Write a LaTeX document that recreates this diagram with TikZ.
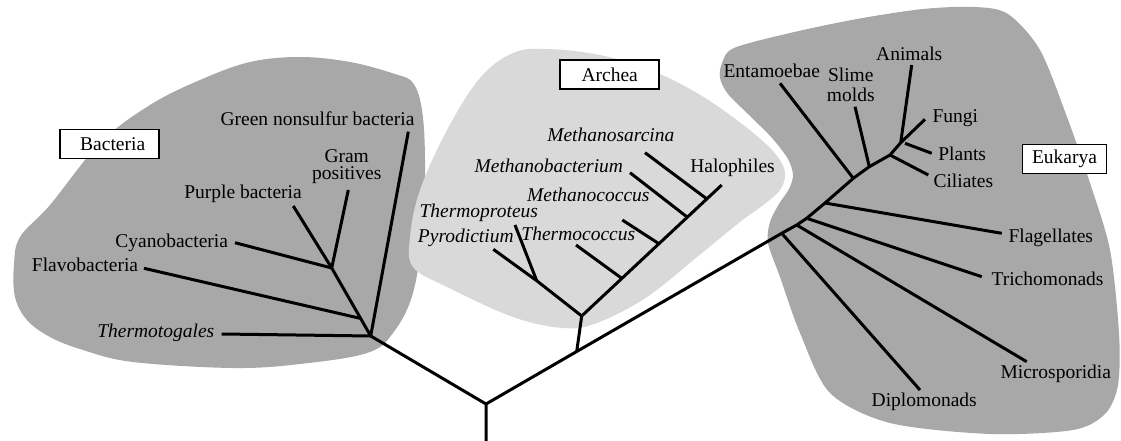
\documentclass[tikz,border=0pt]{standalone}
\usepackage{fontspec}
\setmainfont{Liberation Serif}
\definecolor{darkblob}{gray}{0.66}
\definecolor{lightblob}{gray}{0.85}
\begin{document}
\begin{tikzpicture}[x=1pt,y=-1pt,
  br/.style={line width=3pt, line join=round},
  lbl/.style={font=\fontsize{19.5}{20}\selectfont, inner sep=0pt, anchor=base},
  ilbl/.style={lbl, font=\fontsize{19.5}{20}\selectfont\itshape},
  dom/.style={draw, line width=1.6pt, fill=white, font=\fontsize{19.5}{20}\selectfont,
              minimum height=29pt, inner sep=0pt}]
\useasboundingbox (0,0) rectangle (1121,441);
% blobs
\fill[darkblob] plot[smooth cycle, tension=0.6] coordinates {
 (413,83) (422,110) (425,160) (423,227) (413,293) (393,333) (367,353) (300,364)
 (233,368) (133,362) (83,350) (50,337) (27,320) (15,297) (14,265) (20,237)
 (50,205) (100,143) (150,105) (200,80) (250,62) (300,57) (350,62) (395,74)};
\fill[lightblob] plot[smooth cycle, tension=0.6] coordinates {
 (513,53) (547,49) (600,55) (650,70) (690,89) (723,110) (757,136) (777,156)
 (785,173) (780,190) (762,206) (740,222) (697,257) (647,297) (597,323) (563,328)
 (513,317) (447,287) (413,267) (410,237) (420,190) (447,130) (480,78)};
\fill[darkblob] plot[smooth cycle, tension=0.5] coordinates {
 (722,63) (734,48) (790,33) (857,19) (923,9) (975,7) (1008,14) (1040,50)
 (1067,117) (1090,183) (1110,250) (1119,333) (1118,385) (1105,414) (1073,430)
 (990,434) (890,423) (830,393) (800,333) (780,277) (768,243) (770,222)
 (779,204) (789,189) (793,175) (788,159) (772,138) (749,115) (728,94) (720,78)};
% domain boxes
\node[dom, minimum width=99pt] (bact) at (109.7,144) {\hspace*{6pt}Bacteria};
\node[dom, minimum width=99pt] (arch) at (609.7,74.7) {Archea};
\node[dom, minimum width=84pt] (euk) at (1064.5,158.8) {Eukarya};
% root
\coordinate (root) at (486,404);
\coordinate (rootb) at (486,441);
\coordinate (bn) at (370.7,336);
\coordinate (aj) at (576.7,351.5);
\coordinate (dj) at (781.7,233.3);
\draw[br] (rootb) -- (root) -- (bn);
\draw[br] (root) -- (aj) -- (dj);
% Bacteria
\coordinate (bs) at (331.7,268);
\coordinate (bf) at (360,318.3);
\coordinate (tGreen) at (408.3,131.7);
\coordinate (tGram) at (348.3,190);
\coordinate (tPurple) at (293.3,206);
\coordinate (tCyano) at (235,242.7);
\coordinate (tFlavo) at (144,268.3);
\coordinate (tTherm) at (221.7,334);
\draw[br] (bn) -- (tGreen);
\draw[br] (bn) -- (bs) -- (tPurple);
\draw[br] (bs) -- (tGram);
\draw[br] (bs) -- (tCyano);
\draw[br] (bf) -- (tFlavo);
\draw[br] (bn) -- (tTherm);
\node[lbl] (lGreen) at (317.5,126) {Green nonsulfur bacteria};
\node[lbl, align=center] (lGram) at (346.7,179.3) {Gram\\[-3pt]positives};
\node[lbl] (lPurple) at (243,198.7) {Purple bacteria};
\node[lbl] (lCyano) at (171.7,247.7) {Cyanobacteria};
\node[lbl] (lFlavo) at (85,271) {Flavobacteria};
\node[ilbl] (lTherm) at (155.8,337.7) {Thermotogales};
% Archea
\coordinate (an) at (581.7,316);
\coordinate (al) at (536.7,280.7);
\coordinate (tPyro) at (493.3,249.3);
\coordinate (tTprot) at (515,225);
\coordinate (tHalo) at (721.7,185);
\coordinate (jTc) at (621.7,278.3);
\coordinate (tTc) at (576,245);
\coordinate (jMc) at (658.3,243.3);
\coordinate (tMc) at (622.3,220);
\coordinate (jMb) at (686.7,216.7);
\coordinate (tMb) at (630,172.7);
\coordinate (jMs) at (706,198.3);
\coordinate (tMs) at (645,152.7);
\draw[br] (aj) -- (an) -- (tHalo);
\draw[br] (an) -- (al) -- (tPyro);
\draw[br] (al) -- (tTprot);
\draw[br] (jTc) -- (tTc);
\draw[br] (jMc) -- (tMc);
\draw[br] (jMb) -- (tMb);
\draw[br] (jMs) -- (tMs);
\node[ilbl] (lMs) at (610.8,141) {Methanosarcina};
\node[ilbl] (lMb) at (548.8,172) {Methanobacterium};
\node[ilbl] (lMc) at (588.3,201.7) {Methanococcus};
\node[ilbl] (lTprot) at (478.8,217.7) {Thermoproteus};
\node[ilbl] (lPyro) at (465.8,242.7) {Pyrodictium};
\node[ilbl] (lTc) at (578.3,240) {Thermococcus};
\node[lbl] (lHalo) at (732.5,172.7) {Halophiles};
% Eukarya
\coordinate (jMi) at (796.7,225);
\coordinate (jTr) at (806.7,218.3);
\coordinate (jFl) at (825,203);
\coordinate (jEn) at (853.3,178.3);
\coordinate (jSl) at (869.3,166.7);
\coordinate (jCi) at (890,155);
\coordinate (crown) at (900.7,142.7);
\coordinate (jPl) at (905,143.3);
\coordinate (tDi) at (920,390);
\coordinate (tMi) at (1026.7,361.7);
\coordinate (tTr) at (981.7,276.7);
\coordinate (tFl) at (1001.7,233.3);
\coordinate (tEn) at (780,83.3);
\coordinate (tSl) at (855,106.7);
\coordinate (tCi) at (928.3,175);
\coordinate (tAn) at (911.7,65);
\coordinate (tFu) at (925,119.3);
\coordinate (tPl) at (931.7,153.3);
\draw[br] (dj) -- (jMi) -- (jTr) -- (jFl) -- (jEn) -- (jSl) -- (jCi) -- (crown);
\draw[br] (dj) -- (tDi);
\draw[br] (jMi) -- (tMi);
\draw[br] (jTr) -- (tTr);
\draw[br] (jFl) -- (tFl);
\draw[br] (jEn) -- (tEn);
\draw[br] (jSl) -- (tSl);
\draw[br] (jCi) -- (tCi);
\draw[br] (crown) -- (tAn);
\draw[br] (crown) -- (tFu);
\draw[br] (jPl) -- (tPl);
\node[lbl] (lEn) at (771.7,77.7) {Entamoebae};
\node[lbl, align=center] (lSl) at (850.8,102) {Slime\\molds};
\node[lbl] (lAn) at (909.2,61) {Animals};
\node[lbl] (lFu) at (955.3,122.7) {Fungi};
\node[lbl] (lPl) at (962.2,160) {Plants};
\node[lbl] (lCi) at (963.3,187.7) {Ciliates};
\node[lbl] (lFl) at (1050.8,242.7) {Flagellates};
\node[lbl] (lTr) at (1047.5,285.3) {Trichomonads};
\node[lbl] (lMi) at (1055.8,378.7) {Microsporidia};
\node[lbl] (lDi) at (924.2,406) {Diplomonads};
\end{tikzpicture}
\end{document}
